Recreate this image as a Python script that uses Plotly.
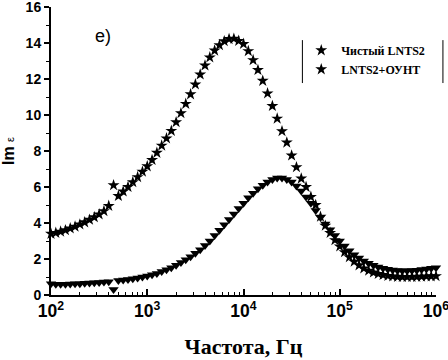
import numpy as np
import plotly.graph_objects as go

# measurement grid: 20 points per decade, 10^2 .. 10^6 Hz
freq = np.logspace(2, 6, 81)

pure_lnts2 = [
    3.40, 3.45, 3.52, 3.60, 3.70, 3.80, 3.92, 4.04, 4.18, 4.32,
    4.48, 4.66, 4.95, 6.10, 5.50, 5.75, 6.00, 6.27, 6.55, 6.85,
    7.15, 7.50, 7.90, 8.30, 8.70, 9.12, 9.60, 10.10, 10.62, 11.15,
    11.70, 12.25, 12.75, 13.20, 13.58, 13.88, 14.10, 14.22, 14.24, 14.12,
    13.95, 13.55, 13.05, 12.50, 11.90, 11.20, 10.50, 9.80, 9.10, 8.47,
    7.75, 7.10, 6.47, 6.00, 5.45, 5.00, 4.35, 3.85, 3.45, 3.05,
    2.70, 2.38, 2.10, 1.85, 1.65, 1.48, 1.35, 1.25, 1.17, 1.11,
    1.06, 1.03, 1.01, 1.00, 1.00, 1.00, 1.01, 1.02, 1.03, 1.04,
    1.05,
]

lnts2_cnt = [
    0.62, 0.60, 0.60, 0.60, 0.61, 0.62, 0.63, 0.65, 0.66, 0.68,
    0.70, 0.72, 0.74, 0.30, 0.80, 0.83, 0.86, 0.90, 0.95, 1.00,
    1.05, 1.12, 1.20, 1.30, 1.40, 1.52, 1.65, 1.80, 1.96, 2.13,
    2.32, 2.52, 2.75, 3.00, 3.30, 3.60, 3.90, 4.20, 4.50, 4.80,
    5.10, 5.40, 5.65, 5.90, 6.10, 6.28, 6.42, 6.50, 6.50, 6.42,
    6.28, 6.05, 5.78, 5.45, 5.10, 4.70, 4.30, 3.95, 3.62, 3.30,
    3.00, 2.72, 2.46, 2.24, 2.05, 1.89, 1.76, 1.65, 1.56, 1.49,
    1.43, 1.39, 1.36, 1.35, 1.35, 1.36, 1.38, 1.41, 1.44, 1.48,
    1.52,
]

y_ticks = [0, 2, 4, 6, 8, 10, 12, 14, 16]

fig = go.Figure()
fig.add_trace(go.Scatter(
    x=freq, y=lnts2_cnt, mode="markers", name="LNTS2+ОУНТ",
    legendgroup="cnt", showlegend=False,
    marker=dict(symbol="triangle-down", size=9, color="black"),
    cliponaxis=False,
))
fig.add_trace(go.Scatter(
    x=freq, y=pure_lnts2, mode="markers", name="Чистый LNTS2",
    marker=dict(symbol="star", size=9, color="black"),
    cliponaxis=False,
))
fig.add_trace(go.Scatter(
    x=[None], y=[None], mode="markers", name="LNTS2+ОУНТ",
    legendgroup="cnt",
    marker=dict(symbol="star", size=9, color="black"),
))

fig.update_layout(
    width=448, height=360,
    margin=dict(l=51, r=12, t=7, b=65, autoexpand=False),
    paper_bgcolor="white", plot_bgcolor="white",
    showlegend=True,
    legend=dict(
        x=0.65, y=0.9, xanchor="left", yanchor="top",
        bgcolor="rgba(0,0,0,0)", borderwidth=0,
        font=dict(family="Liberation Serif", size=12, color="black", weight="bold"),
        tracegroupgap=0, itemwidth=30,
    ),
    font=dict(family="Liberation Sans", color="black"),
)

fig.update_xaxes(
    type="log", range=[2, 6], dtick=1, exponentformat="power",
    automargin=False, ticklabeloverflow="allow",
    showline=True, linecolor="black", linewidth=2,
    ticks="inside", ticklen=6, tickwidth=2, tickcolor="black",
    minor=dict(ticks="inside", ticklen=3, tickwidth=1, tickcolor="black", dtick="D1"),
    showgrid=False, zeroline=False,
    tickfont=dict(family="Liberation Sans", size=14, color="black", weight="bold"),
    title=dict(text="Частота, Гц", standoff=18,
               font=dict(family="Liberation Serif", size=22, color="black", weight="bold")),
)
fig.update_yaxes(
    range=[0, 16], tickvals=y_ticks,
    automargin=False, ticklabeloverflow="allow",
    showline=True, linecolor="black", linewidth=2,
    ticks="outside", ticklen=5, tickwidth=2, tickcolor="black",
    minor=dict(ticks="outside", ticklen=3, tickwidth=1, tickcolor="black", dtick=1),
    showgrid=False, zeroline=False,
    tickfont=dict(family="Liberation Sans", size=14, color="black", weight="bold"),
    title=dict(text="Im <span style='font-size:11px;font-weight:normal'>ε</span>", standoff=8,
               font=dict(family="Liberation Sans", size=16, color="black", weight="bold")),
)

fig.add_annotation(
    text="e)", xref="paper", yref="paper", x=0.11, y=0.9,
    xanchor="left", yanchor="middle", showarrow=False,
    font=dict(family="Liberation Sans", size=18, color="black"),
)

for xp in (0.653, 1.018):
    fig.add_shape(type="line", xref="paper", yref="paper",
                  x0=xp, x1=xp, y0=0.736, y1=0.885,
                  line=dict(color="black", width=1))

fig.write_html("out.html", config={"displayModeBar": False},
               post_script="document.body.style.margin='0';")
